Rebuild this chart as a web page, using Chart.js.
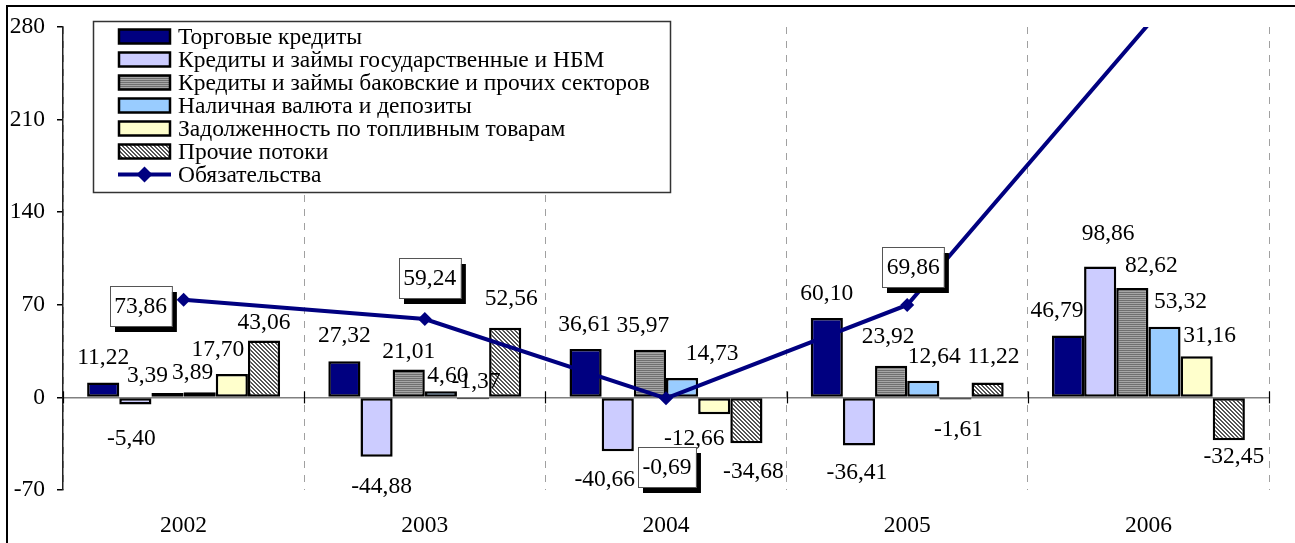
<!DOCTYPE html>
<html>
<head>
<meta charset="utf-8">
<script src="https://cdn.jsdelivr.net/npm/chart.js@4"></script>
<style>
  body { margin: 0; background: #fff; }
  #wrap { width: 1295px; height: 543px; }
</style>
</head>
<body>
<div id="wrap"><canvas id="chart" width="1295" height="543"></canvas></div>
<script>
const years = ["2002", "2003", "2004", "2005", "2006"];
const seriesNames = [
  "Торговые кредиты",
  "Кредиты и займы государственные и НБМ",
  "Кредиты и займы баковские и прочих секторов",
  "Наличная валюта и депозиты",
  "Задолженность по топливным товарам",
  "Прочие потоки",
  "Обязательства"
];
const tradeCredits = [11.22, 27.32, 36.61, 60.10, 46.79];
const govLoans = [-5.40, -44.88, -40.66, -36.41, 98.86];
const bankLoans = [3.39, 21.01, 35.97, 23.92, 82.62];
const cashDeposits = [3.89, 4.60, 14.73, 12.64, 53.32];
const fuelDebt = [17.70, -1.37, -12.66, -1.61, 31.16];
const otherFlows = [43.06, 52.56, -34.68, 11.22, -32.45];
const liabilities = [73.86, 59.24, -0.69, 69.86, 282];
const yTicks = [-70, 0, 70, 140, 210, 280];

// hand placement of the value labels (px nudges, like in the original sheet)
const labelNudge = [
  [[0, -1], [0, -1], [-1, 0], [0, 0], [-11, -1]],
  [[-4, 5], [5, 1], [-13, 0], [-2, -2], [8, -9]],
  [[-20, 7], [0, 6], [-7, 0], [-3, -5], [19, 2]],
  [[-7, 5], [7, 9], [30, 0], [11, 0], [16, -1]],
  [[-14, 0], [3, -46], [-20, -4], [3, 1], [13, 4]],
  [[0, 7], [6, -5], [7, 0], [6, -2], [5, -12]]
];
// boxed labels of the line, box centre relative to the point
const lineLabelOffset = [[-43, 6], [5, -41], [1, 69], [6, -38], null];

const FONT = "'Liberation Serif', 'Times New Roman', serif";
const FSIZE = 23.5;
Chart.defaults.font.family = FONT;
Chart.defaults.font.size = FSIZE;
Chart.defaults.color = "#000";

function stripePattern() {
  const c = document.createElement("canvas");
  c.width = 2; c.height = 2;
  const g = c.getContext("2d");
  g.fillStyle = "#a6a6a6";
  g.fillRect(0, 0, 2, 2);
  g.fillStyle = "#707070";
  g.fillRect(0, 0, 2, 1);
  return g.createPattern(c, "repeat");
}

function hatchPattern() {
  const c = document.createElement("canvas");
  c.width = 4; c.height = 4;
  const g = c.getContext("2d");
  g.fillStyle = "#fff";
  g.fillRect(0, 0, 4, 4);
  g.fillStyle = "#555";
  const rows = ["1100", "0110", "0011", "1001"];
  rows.forEach((r, y) => {
    for (let x = 0; x < 4; x++) if (r[x] === "1") g.fillRect(x, y, 1, 1);
  });
  return g.createPattern(c, "repeat");
}

const ctx = document.getElementById("chart").getContext("2d");
const fills = ["#000080", "#ccccff", stripePattern(), "#99ccff", "#ffffcc", hatchPattern()];
const barData = [tradeCredits, govLoans, bankLoans, cashDeposits, fuelDebt, otherFlows];

const fmt = v => v.toFixed(2).replace(".", ",");

const datasets = barData.map((d, i) => ({
  type: "bar",
  label: seriesNames[i],
  data: d,
  backgroundColor: fills[i],
  borderColor: "#000",
  borderWidth: 2.5,
  borderSkipped: false,
  categoryPercentage: 0.8,
  barPercentage: 1.0,
  order: 1
}));

datasets.push({
  type: "line",
  label: seriesNames[6],
  data: liabilities,
  borderColor: "#000080",
  borderWidth: 4,
  pointStyle: "rectRot",
  pointRadius: [7, 7, 7, 7, 0],
  pointBackgroundColor: "#000080",
  pointBorderWidth: 0,
  tension: 0,
  order: 0
});

const extras = {
  id: "extras",
  afterDatasetsDraw(chart) {
    const c = chart.ctx;
    const xs = chart.scales.x;
    const ys = chart.scales.y;
    const zero = ys.getPixelForValue(0);
    c.save();

    // tick marks crossing the zero line at category boundaries
    const catW = (xs.right - xs.left) / years.length;
    c.strokeStyle = "#000";
    c.lineWidth = 1.2;
    for (let i = 0; i <= years.length; i++) {
      const x = Math.round(xs.left + i * catW) + 0.5;
      c.beginPath();
      c.moveTo(x, zero - 6);
      c.lineTo(x, zero + 6);
      c.stroke();
    }

    // bar value labels
    c.font = FSIZE + "px " + FONT;
    c.fillStyle = "#000";
    c.textAlign = "center";
    c.textBaseline = "alphabetic";
    barData.forEach((d, di) => {
      const meta = chart.getDatasetMeta(di);
      meta.data.forEach((el, i) => {
        const v = d[i];
        const [dx, dy] = labelNudge[di][i];
        if (v >= 0) {
          c.fillText(fmt(v), el.x + dx, el.y - 18 + dy);
        } else {
          c.fillText(fmt(v), el.x + dx, el.y + 19 + 16 + dy);
        }
      });
    });

    // boxed labels for the line
    const lm = chart.getDatasetMeta(6);
    lm.data.forEach((pt, i) => {
      const off = lineLabelOffset[i];
      if (!off) return;
      const txt = fmt(liabilities[i]);
      const w = c.measureText(txt).width + 9;
      const h = 40;
      const cx = pt.x + off[0];
      const cy = pt.y + off[1];
      const x0 = Math.round(cx - w / 2), y0 = Math.round(cy - h / 2);
      c.fillStyle = "#000";
      c.fillRect(x0 + 5, y0 + 6, w, h);
      c.fillStyle = "#fff";
      c.fillRect(x0, y0, w, h);
      c.strokeStyle = "#555";
      c.lineWidth = 1;
      c.strokeRect(x0 + 0.5, y0 + 0.5, w, h);
      c.fillStyle = "#000";
      c.textBaseline = "middle";
      c.fillText(txt, cx, cy + 1);
    });

    // legend
    const lx = 93, ly = 21, lw = 577, lh = 171;
    c.fillStyle = "#fff";
    c.fillRect(lx, ly, lw, lh);
    c.strokeStyle = "#333";
    c.lineWidth = 1.5;
    c.strokeRect(lx + 0.5, ly + 0.5, lw, lh);
    c.textAlign = "left";
    c.textBaseline = "middle";
    seriesNames.forEach((name, i) => {
      const cy = 36.5 + i * 23;
      if (i < 6) {
        c.fillStyle = fills[i];
        c.fillRect(119, cy - 7, 51, 14);
        c.strokeStyle = "#000";
        c.lineWidth = 2.5;
        c.strokeRect(119, cy - 7, 51, 14);
      } else {
        c.strokeStyle = "#000080";
        c.lineWidth = 4;
        c.beginPath();
        c.moveTo(118, cy);
        c.lineTo(171, cy);
        c.stroke();
        c.fillStyle = "#000080";
        c.beginPath();
        c.moveTo(144.5, cy - 8);
        c.lineTo(152.5, cy);
        c.lineTo(144.5, cy + 8);
        c.lineTo(136.5, cy);
        c.closePath();
        c.fill();
      }
      c.fillStyle = "#000";
      c.fillText(name, 178, cy + 1);
    });

    // outer frame
    c.strokeStyle = "#000";
    c.lineWidth = 2;
    c.strokeRect(7, 6, 1400, 1000);
    c.restore();
  }
};

new Chart(ctx, {
  type: "bar",
  data: { labels: years, datasets },
  options: {
    responsive: false,
    animation: false,
    layout: { padding: { left: 0, right: 26, top: 27, bottom: 0 } },
    plugins: { legend: { display: false }, tooltip: { enabled: false } },
    scales: {
      x: {
        offset: true,
        grid: { color: "#a0a0a0", lineWidth: 1, drawTicks: false },
        border: { display: false, dash: [7, 7] },
        ticks: { padding: 22, font: { size: FSIZE } },
        afterFit: s => { s.height = 53; }
      },
      y: {
        min: -70,
        max: 280,
        afterBuildTicks: s => { s.ticks = yTicks.map(v => ({ value: v })); },
        ticks: { padding: 12, font: { size: FSIZE }, callback: v => String(v) },
        grid: {
          color: c => (c.tick && c.tick.value === 0 ? "#808080" : "transparent"),
          lineWidth: 1.5,
          tickLength: 6,
          tickColor: "#000"
        },
        border: { display: true, color: "#222", width: 1.5 },
        afterFit: s => { s.width = 63; }
      }
    }
  },
  plugins: [extras]
});
</script>
</body>
</html>
